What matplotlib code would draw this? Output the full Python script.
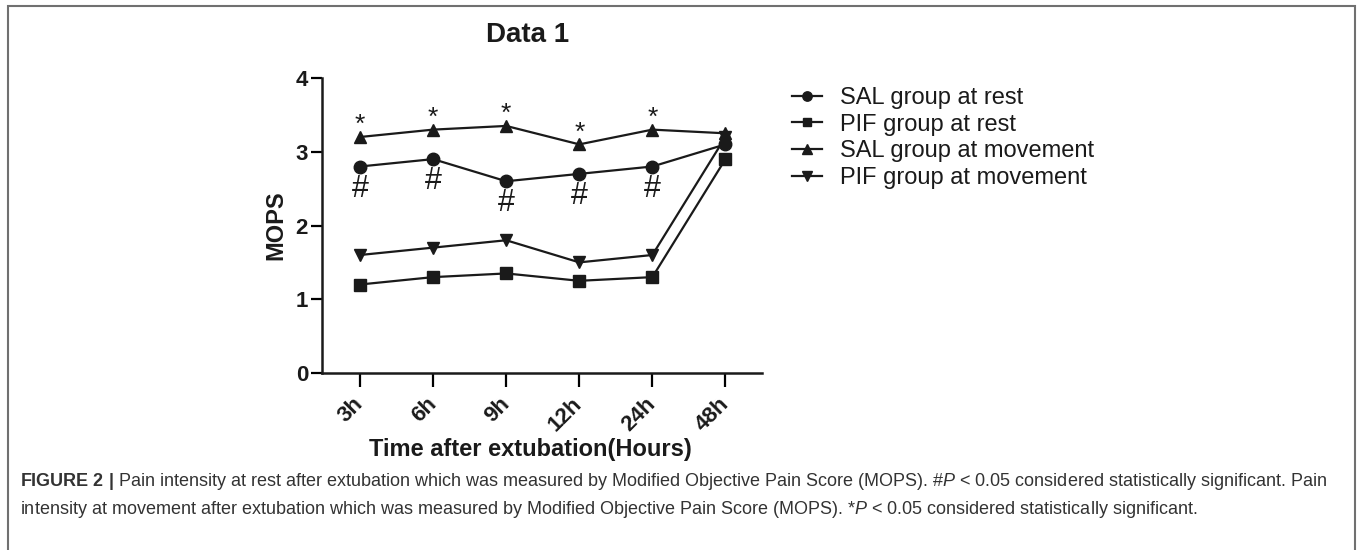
import matplotlib
matplotlib.use("Agg")
import matplotlib.pyplot as plt
from matplotlib import font_manager
from matplotlib.patches import Rectangle

# data
timeLabels = ["3h", "6h", "9h", "12h", "24h", "48h"]
salRest = [2.8, 2.9, 2.6, 2.7, 2.8, 3.1]
pifRest = [1.2, 1.3, 1.35, 1.25, 1.3, 2.9]
salMove = [3.2, 3.3, 3.35, 3.1, 3.3, 3.25]
pifMove = [1.6, 1.7, 1.8, 1.5, 1.6, 3.2]
starIdx = [0, 1, 2, 3, 4]
hashIdx = [0, 1, 2, 3, 4]

seriesNames = ["SAL group at rest", "PIF group at rest", "SAL group at movement", "PIF group at movement"]
seriesMarkers = ["o", "s", "^", "v"]

installed = {f.name for f in font_manager.fontManager.ttflist}
captionFont = "Liberation Sans Narrow" if "Liberation Sans Narrow" in installed else "Liberation Sans"
captionSize = 16.2 if captionFont == "Liberation Sans Narrow" else 13

plt.rcParams["font.family"] = ["Liberation Sans", "DejaVu Sans"]
plt.rcParams["mathtext.fontset"] = "custom"
plt.rcParams["mathtext.it"] = captionFont + ":italic"
plt.rcParams["mathtext.bf"] = captionFont + ":bold"
plt.rcParams["mathtext.rm"] = captionFont

ink = "#1a1a1a"
fig = plt.figure(figsize=(13.57, 5.5), dpi=100)
ax = fig.add_axes([322 / 1357, 1 - 373 / 550, 440 / 1357, 295 / 550])

xs = list(range(len(timeLabels)))
for vals, name, mk in zip([salRest, pifRest, salMove, pifMove], seriesNames, seriesMarkers):
    ms = 9 if mk in ("o", "^", "v") else 8.5
    ax.plot(xs, vals, color=ink, lw=1.6, marker=mk, ms=ms, label=name, clip_on=False)

for i in starIdx:
    ax.annotate("*", (xs[i], salMove[i]), xytext=(0, 0), textcoords="offset points",
                ha="center", va="bottom", fontsize=19, color=ink)
for i in hashIdx:
    ax.annotate("#", (xs[i], salRest[i]), xytext=(0, -16), textcoords="offset points",
                ha="center", va="center", fontsize=22, color=ink)

ax.set_xlim(-0.52, 5.5)
ax.set_ylim(0, 4)
ax.set_yticks([0, 1, 2, 3, 4])
ax.set_xticks(xs)
ax.set_xticklabels(timeLabels, rotation=45, ha="right", va="center", rotation_mode="anchor",
                   fontsize=16, fontweight="bold", color=ink)
for lbl in ax.get_yticklabels():
    lbl.set_fontsize(16)
    lbl.set_fontweight("bold")
    lbl.set_color(ink)
ax.tick_params(axis="y", direction="out", length=8, width=1.6, pad=2)
ax.tick_params(axis="x", direction="out", length=10, width=1.6, pad=10)
for side in ("top", "right"):
    ax.spines[side].set_visible(False)
for side in ("left", "bottom"):
    ax.spines[side].set_linewidth(1.8)
    ax.spines[side].set_color(ink)

ax.set_ylabel("MOPS", fontsize=17, fontweight="bold", color=ink, va="center")
ax.yaxis.set_label_coords(-0.105, 0.5)
ax.set_xlabel("Time after extubation(Hours)", fontsize=17, fontweight="bold", color=ink, va="center")
ax.xaxis.set_label_coords(0.473, -0.26)

fig.text(528 / 1357, 1 - 35 / 550, "Data 1", fontsize=20, fontweight="bold", color=ink,
         ha="center", va="center")

ax.legend(loc="upper left", bbox_to_anchor=(792 / 1357, 1 - 87 / 550), bbox_transform=fig.transFigure,
          frameon=False, fontsize=17, handlelength=1.27, handletextpad=0.75, labelspacing=0.2,
          borderpad=0, borderaxespad=0, markerscale=0.75, labelcolor=ink)

# page frame and caption
fig.patches.append(Rectangle((8 / 1357, -0.1), 1347 / 1357, 1.1 - 6 / 550, transform=fig.transFigure,
                             fill=False, edgecolor="#707070", lw=1.5))
line1 = (r"$\bf{FIGURE\ 2\ |}$ Pain intensity at rest after extubation which was measured by Modified "
         r"Objective Pain Score (MOPS). #$\it{P}$ < 0.05 considered statistically significant. Pain")
line2 = (r"intensity at movement after extubation which was measured by Modified Objective Pain Score "
         r"(MOPS). *$\it{P}$ < 0.05 considered statistically significant.")
fig.text(20 / 1357, 1 - 481 / 550, line1, fontsize=captionSize, family=captionFont, color="#333333",
         ha="left", va="center")
fig.text(20 / 1357, 1 - 510 / 550, line2, fontsize=captionSize, family=captionFont, color="#333333",
         ha="left", va="center")

fig.savefig("out.png", dpi=100)
